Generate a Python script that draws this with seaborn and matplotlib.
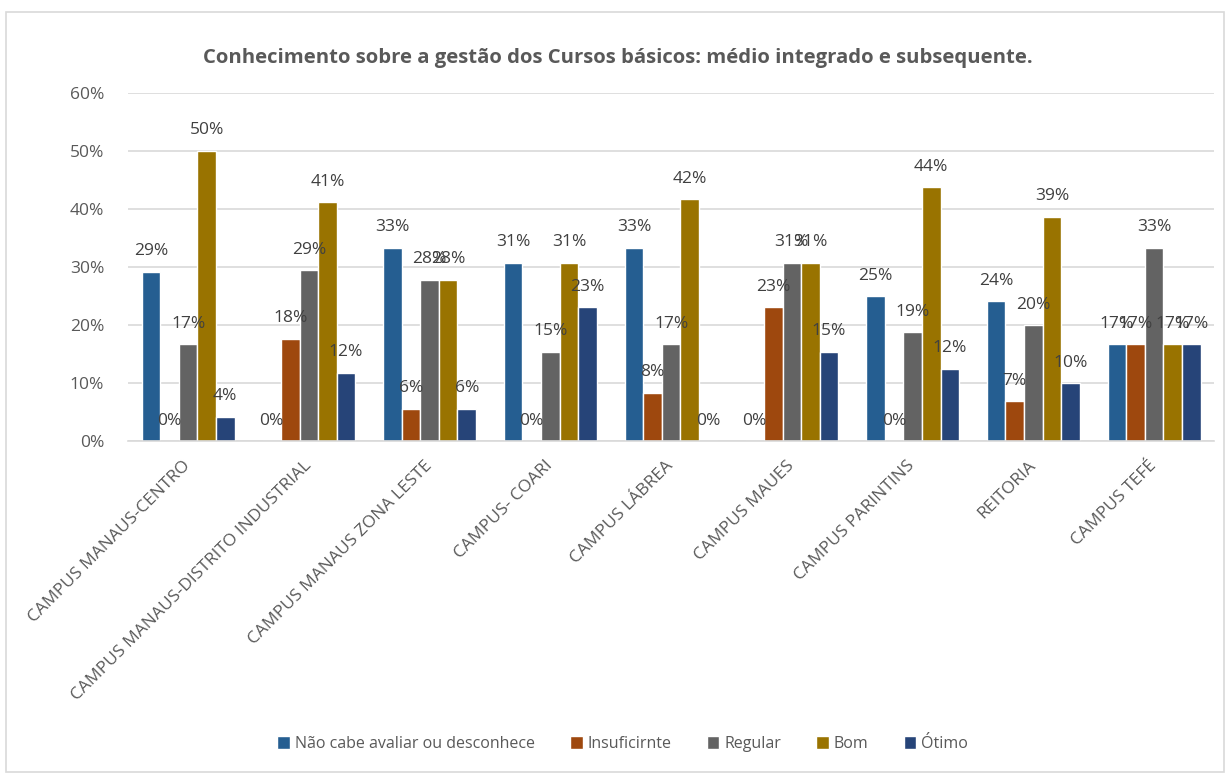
import pandas as pd
import matplotlib
matplotlib.use("Agg")
import matplotlib.pyplot as plt
import seaborn as sns
from matplotlib.patches import Rectangle
from matplotlib.ticker import PercentFormatter

campi = ["CAMPUS MANAUS-CENTRO", "CAMPUS MANAUS-DISTRITO INDUSTRIAL",
         "CAMPUS MANAUS ZONA LESTE", "CAMPUS- COARI", "CAMPUS LÁBREA",
         "CAMPUS MAUES", "CAMPUS PARINTINS", "REITORIA", "CAMPUS TEFÉ"]
niveis = ["Não cabe avaliar ou desconhece", "Insuficirnte", "Regular", "Bom", "Ótimo"]

nao_cabe = [0.2917, 0.0, 0.3333, 0.3077, 0.3333, 0.0, 0.25, 0.2414, 0.1667]
insuficirnte = [0.0, 0.1765, 0.0556, 0.0, 0.0833, 0.2308, 0.0, 0.069, 0.1667]
regular = [0.1667, 0.2941, 0.2778, 0.1538, 0.1667, 0.3077, 0.1875, 0.20, 0.3333]
bom = [0.50, 0.4118, 0.2778, 0.3077, 0.4167, 0.3077, 0.4375, 0.3862, 0.1667]
otimo = [0.0417, 0.1176, 0.0556, 0.2308, 0.0, 0.1538, 0.125, 0.10, 0.1667]

cores = ["#255E91", "#9E480E", "#636363", "#997300", "#264478"]

rows = []
for nivel, vals in zip(niveis, [nao_cabe, insuficirnte, regular, bom, otimo]):
    for c, v in zip(campi, vals):
        rows.append({"campus": c, "nivel": nivel, "valor": v})
df = pd.DataFrame(rows)

sns.set_style("white")
plt.rcParams['font.family'] = ['Open Sans', 'DejaVu Sans']

fig = plt.figure(figsize=(12.28, 7.74), dpi=100)
ax = fig.add_axes([0.104, 0.430, 0.885, 0.450])

sns.barplot(data=df, x="campus", y="valor", hue="nivel", order=campi,
            hue_order=niveis, palette=cores, width=0.77, gap=0,
            saturation=1, errorbar=None, ax=ax)

# rotulos de dados em cima de cada barra
for cont in ax.containers:
    ax.bar_label(cont, labels=[f"{b.get_height()*100:.0f}%" for b in cont],
                 padding=9, fontsize=12.5, color="#404040")

ax.set_ylim(0, 0.6)
ax.set_yticks([0, 0.1, 0.2, 0.3, 0.4, 0.5, 0.6])
ax.yaxis.set_major_formatter(PercentFormatter(1.0, decimals=0))
ax.grid(axis="y", color="#D9D9D9", linewidth=1.2)
ax.set_axisbelow(True)
for s in ["left", "right", "top"]:
    ax.spines[s].set_visible(False)
ax.spines["bottom"].set_color("#D9D9D9")
ax.spines["bottom"].set_linewidth(1.2)
ax.set_xlim(-0.5, len(campi) - 0.5)
ax.set_xlabel("")
ax.set_ylabel("")
ax.tick_params(axis="y", length=0, labelsize=12.5, labelcolor="#595959", pad=17)
ax.tick_params(axis="x", length=0, labelsize=12.5, labelcolor="#595959", pad=16)
plt.setp(ax.get_xticklabels(), rotation=45, ha="right", va="center",
         rotation_mode="anchor")

fig.text(0.503, 1 - 58 / 774,
         "Conhecimento sobre a gestão dos Cursos básicos: médio integrado e subsequente.",
         fontsize=14.6, fontweight="bold", color="#595959", ha="center", va="center")

ax.legend(loc="center", ncol=5, frameon=False, fontsize=11.5,
          handlelength=0.8, handleheight=0.8, handletextpad=0.3,
          columnspacing=2.2, labelcolor="#595959")
leg = ax.get_legend()
leg.set_bbox_to_anchor((0.507, 1 - 744 / 774), transform=fig.transFigure)

fig.patches.append(Rectangle((6 / 1228, 0.002), 1 - 10 / 1228, 1 - 14 / 774,
                             transform=fig.transFigure, fill=False,
                             edgecolor="#D9D9D9", linewidth=1.2))

fig.savefig("out.png", dpi=100)
